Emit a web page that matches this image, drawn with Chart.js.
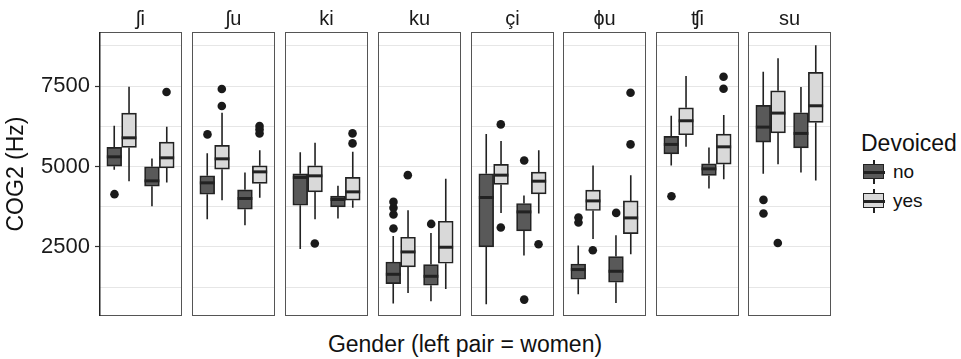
<!DOCTYPE html>
<html>
<head>
<meta charset="utf-8">
<script src="https://cdn.jsdelivr.net/npm/chart.js@4"></script>
<style>
    body { margin: 0; width: 961px; height: 359px; background: #fff; position: relative; overflow: hidden;
           font-family: 'Liberation Sans', Arial, 'DejaVu Sans', sans-serif; color: #111; }
    .panel { position: absolute; top: 0; height: 359px; }
    #xtitle { position: absolute; left: 99px; width: 732px; top: 330px; text-align: center; font-size: 23px; line-height: 28px; }
    .ltitle { position: absolute; left: 861px; top: 129px; font-size: 23px; line-height: 28px; }
    .lab { position: absolute; left: 893px; font-size: 19px; line-height: 22px; }
    .key { position: absolute; left: 863px; width: 22px; height: 24px; }
    .key .wh { position: absolute; left: 10px; top: 0; width: 1.5px; height: 24px; background: #222; }
    .key .bx { position: absolute; left: 0; top: 4px; width: 19px; height: 13px; border: 1.5px solid #222; }
    .key .md { position: absolute; left: 0; top: 10.5px; width: 22px; height: 3px; background: #222; }
</style>
</head>
<body>
<div id="xtitle">Gender (left pair = women)</div>
<div class="ltitle">Devoiced</div>
<div class="key" style="top:160px"><div class="wh"></div><div class="bx" style="background:#595959"></div><div class="md"></div></div>
<div class="lab" style="top:161px">no</div>
<div class="key" style="top:189px"><div class="wh"></div><div class="bx" style="background:#d9d9d9"></div><div class="md"></div></div>
<div class="lab" style="top:190px">yes</div>

<script>
/**=================
 * Data
 =================*/
const facets = ['ʃi', 'ʃu', 'ki', 'ku', 'çi', 'ɸu', 'ʧi', 'su'];
const genders = ['women', 'men'];
const yTicks = [2500, 5000, 7500];
const yMinor = [1250, 3750, 6250, 8750];

// [lower whisker, q1, median, q3, upper whisker] per facet
const womenNo = [
    [4900, 5009, 5299, 5591, 6264], [3359, 4138, 4490, 4708, 5414], [2435, 3795, 4658, 4770, 5445], [735, 1358, 1647, 2030, 2840],
    [713, 2497, 4035, 4770, 6005], [1025, 1492, 1794, 1968, 2541], [5031, 5392, 5685, 5934, 6575], [4770, 5757, 6223, 6899, 7945]
];
const womenYes = [
    [4542, 5591, 5890, 6659, 7478], [3951, 4916, 5237, 5654, 6669], [3359, 4210, 4708, 5019, 5735], [1065, 1875, 2342, 2799, 3640],
    [3556, 4440, 4729, 5062, 5788], [2746, 3630, 3929, 4262, 5031], [5610, 5984, 6420, 6824, 7809], [5072, 6046, 6659, 7353, 8362]
];
const menNo = [
    [3764, 4387, 4552, 4988, 5249], [3173, 3671, 4004, 4272, 4813], [3381, 3743, 3973, 4075, 4397], [807, 1305, 1585, 1949, 2933],
    [2230, 2995, 3587, 3849, 4100], [754, 1399, 1741, 2198, 2861], [4315, 4720, 4925, 5081, 5591], [4813, 5579, 6027, 6669, 7469]
];
const menYes = [
    [4502, 4957, 5268, 5757, 6233], [4023, 4471, 4832, 5019, 5507], [3712, 3951, 4210, 4658, 5455], [1190, 1990, 2488, 3297, 4614],
    [3537, 4147, 4542, 4823, 5507], [2270, 2911, 3400, 3929, 4729], [4605, 5072, 5610, 6005, 6597], [4564, 6369, 6886, 7926, 8767]
];

// outliers per facet
const womenNoOut = [[4138], [5996], [], [3070, 3506, 3712, 3898], [], [3257, 3412], [4075], [3537, 3960]];
const womenYesOut = [[], [6877, 7406], [2603], [4729], [3101, 6307], [2394], [], [2622]];
const menNoOut = [[], [], [], [3213], [860, 5187], [3556], [], []];
const menYesOut = [[7313], [6027, 6152, 6255], [5716, 6027], [], [2581], [5685, 7291], [7416, 7789], []];

/**=================
 * Look
 =================*/
const FONT = "'Liberation Sans', Arial, 'DejaVu Sans', sans-serif";
const DARK = '#595959';
const LIGHT = '#d9d9d9';
const LINE = '#222';
const DODGE = 0.19;
const panelLefts = [99, 192, 285, 378, 471, 563, 656, 748];
const PANEL_W = 83;

/**=================
 * Box parts plugin
 =================*/
const boxParts = {
    id: 'boxParts',
    beforeDatasetsDraw(chart) {
        const y = chart.scales.y, ctx = chart.ctx;
        ctx.save();
        ctx.strokeStyle = LINE;
        ctx.lineWidth = 1.6;
        chart.data.datasets.forEach((ds, d) => {
            if (!ds.stats) return;
            chart.getDatasetMeta(d).data.forEach((bar, i) => {
                const s = ds.stats[i];
                ctx.beginPath();
                ctx.moveTo(bar.x, y.getPixelForValue(s[0]));
                ctx.lineTo(bar.x, y.getPixelForValue(s[1]));
                ctx.moveTo(bar.x, y.getPixelForValue(s[3]));
                ctx.lineTo(bar.x, y.getPixelForValue(s[4]));
                ctx.stroke();
            });
        });
        ctx.restore();
    },
    afterDatasetsDraw(chart) {
        const y = chart.scales.y, ctx = chart.ctx;
        ctx.save();
        ctx.strokeStyle = LINE;
        ctx.lineWidth = 3;
        chart.data.datasets.forEach((ds, d) => {
            if (!ds.stats) return;
            chart.getDatasetMeta(d).data.forEach((bar, i) => {
                const py = y.getPixelForValue(ds.stats[i][2]);
                ctx.beginPath();
                ctx.moveTo(bar.x - bar.width / 2, py);
                ctx.lineTo(bar.x + bar.width / 2, py);
                ctx.stroke();
            });
        });
        ctx.restore();
    },
    afterDraw(chart, args, opts) {
        const a = chart.chartArea, ctx = chart.ctx;
        ctx.save();
        ctx.strokeStyle = '#555';
        ctx.lineWidth = 1;
        ctx.strokeRect(a.left + 0.5, a.top + 0.5, a.right - a.left - 1, a.bottom - a.top - 1);
        if (opts.axis) {
            ctx.strokeStyle = '#222';
            ctx.lineWidth = 1.5;
            ctx.beginPath();
            ctx.moveTo(a.left + 0.75, a.top);
            ctx.lineTo(a.left + 0.75, a.bottom);
            ctx.stroke();
        }
        ctx.fillStyle = '#1a1a1a';
        ctx.font = '20px ' + FONT;
        ctx.textAlign = 'center';
        ctx.textBaseline = 'alphabetic';
        ctx.fillText(opts.label, (a.left + a.right) / 2, 25);
        ctx.restore();
    }
};

/**=================
 * Panels
 =================*/
function outliers(wOut, mOut, side) {
    return [
        ...wOut.map(v => ({ x: 1 + side * DODGE, y: v })),
        ...mOut.map(v => ({ x: 2 + side * DODGE, y: v }))
    ];
}

function makePanel(f) {
    const first = f === 0;
    const div = document.createElement('div');
    div.className = 'panel';
    div.style.left = (first ? 0 : panelLefts[f]) + 'px';
    div.style.width = (first ? panelLefts[0] + PANEL_W : PANEL_W) + 'px';
    const canvas = document.createElement('canvas');
    div.appendChild(canvas);
    document.body.appendChild(div);

    return new Chart(canvas, {
        type: 'bar',
        data: {
            datasets: [
                { type: 'scatter', data: outliers(womenNoOut[f], menNoOut[f], -1), pointRadius: 4.3, pointBackgroundColor: '#1a1a1a', pointBorderWidth: 0 },
                { type: 'scatter', data: outliers(womenYesOut[f], menYesOut[f], 1), pointRadius: 4.3, pointBackgroundColor: '#1a1a1a', pointBorderWidth: 0 },
                {
                    label: 'no',
                    data: [{ x: 1, y: [womenNo[f][1], womenNo[f][3]] }, { x: 2, y: [menNo[f][1], menNo[f][3]] }],
                    stats: [womenNo[f], menNo[f]],
                    backgroundColor: DARK
                },
                {
                    label: 'yes',
                    data: [{ x: 1, y: [womenYes[f][1], womenYes[f][3]] }, { x: 2, y: [menYes[f][1], menYes[f][3]] }],
                    stats: [womenYes[f], menYes[f]],
                    backgroundColor: LIGHT
                }
            ]
        },
        options: {
            responsive: true,
            maintainAspectRatio: false,
            animation: false,
            layout: { autoPadding: false, padding: { top: 32, bottom: 43, left: 0, right: 0 } },
            datasets: {
                bar: { borderColor: LINE, borderWidth: 1.7, borderSkipped: false, barThickness: 14.8, grouped: true }
            },
            scales: {
                x: { type: 'linear', min: 0.4, max: 2.6, offset: false, display: false },
                y: {
                    min: 350,
                    max: 9180,
                    afterBuildTicks: s => { s.ticks = [...yTicks, ...yMinor].sort((a, b) => a - b).map(v => ({ value: v })); },
                    afterFit: s => { s.width = first ? panelLefts[0] : 0; },
                    ticks: {
                        display: first,
                        padding: 5,
                        color: '#1a1a1a',
                        font: { size: 22, family: FONT },
                        callback: v => yTicks.includes(v) ? String(v) : ''
                    },
                    grid: {
                        color: '#e6e6e6',
                        lineWidth: 1,
                        drawTicks: first,
                        tickLength: 4,
                        tickWidth: 1.2,
                        tickColor: ctx => (ctx.tick && yTicks.includes(ctx.tick.value)) ? '#333' : 'rgba(0,0,0,0)'
                    },
                    border: { display: false },
                    title: {
                        display: first,
                        text: 'COG2 (Hz)',
                        color: '#111',
                        padding: { top: 3, bottom: 0 },
                        font: { size: 23, family: FONT }
                    }
                }
            },
            plugins: {
                legend: { display: false },
                tooltip: { enabled: false },
                boxParts: { label: facets[f], axis: first }
            }
        },
        plugins: [boxParts]
    });
}

facets.forEach((name, f) => makePanel(f));
</script>
</body>
</html>
